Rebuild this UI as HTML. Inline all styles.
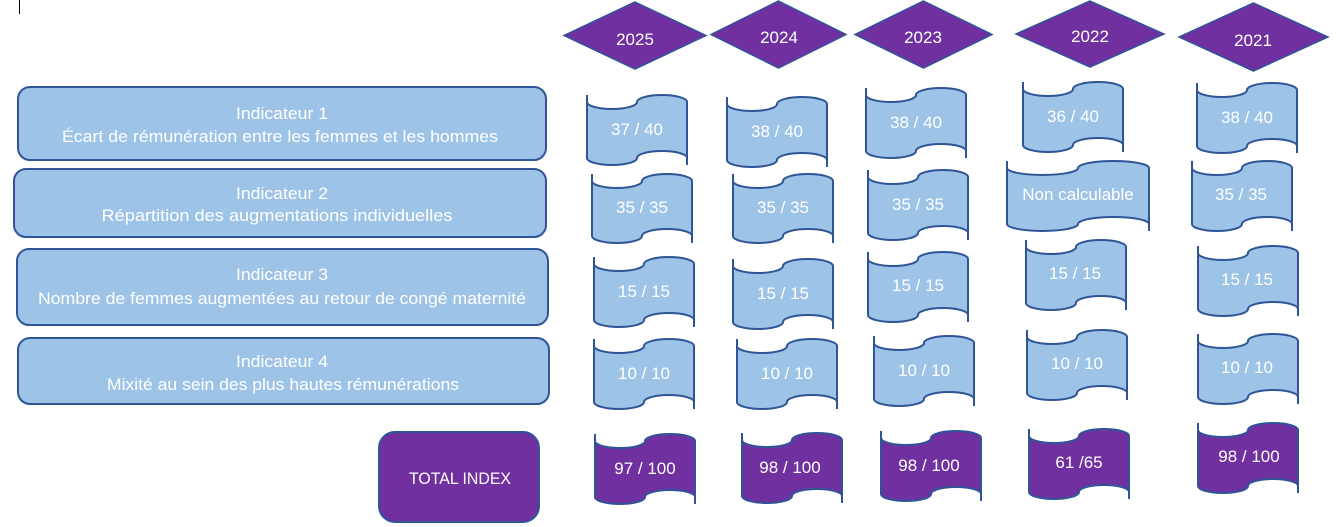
<!DOCTYPE html>
<html>
<head>
<meta charset="utf-8">
<style>
html,body{margin:0;padding:0;background:#fff;}
svg{display:block;}
text{font-family:"Liberation Sans",sans-serif;fill:#fff;}
</style>
</head>
<body>
<svg width="1336" height="527" viewBox="0 0 1336 527" xmlns="http://www.w3.org/2000/svg">
<!-- cursor mark -->
<line x1="19.5" y1="0" x2="19.5" y2="14" stroke="#000" stroke-width="1"/>

<!-- Left indicator boxes -->
<g fill="#9DC3E6" stroke="#2F5597" stroke-width="2">
  <rect x="18" y="87" width="528" height="73" rx="12"/>
  <rect x="14" y="169" width="532" height="68" rx="12"/>
  <rect x="17" y="249" width="531" height="76" rx="12"/>
  <rect x="18" y="338" width="531" height="66" rx="12"/>
</g>
<rect x="379" y="432" width="160" height="90" rx="16" fill="#7030A0" stroke="#2F5597" stroke-width="2"/>

<g font-size="17" text-anchor="middle">
  <text x="282" y="119" textLength="92" lengthAdjust="spacingAndGlyphs">Indicateur 1</text>
  <text x="280" y="142" textLength="436" lengthAdjust="spacingAndGlyphs">Écart de rémunération entre les femmes et les hommes</text>
  <text x="282" y="199" textLength="92" lengthAdjust="spacingAndGlyphs">Indicateur 2</text>
  <text x="277" y="221" textLength="351" lengthAdjust="spacingAndGlyphs">Répartition des augmentations individuelles</text>
  <text x="282" y="280" textLength="92" lengthAdjust="spacingAndGlyphs">Indicateur 3</text>
  <text x="282" y="304" textLength="488" lengthAdjust="spacingAndGlyphs">Nombre de femmes augmentées au retour de congé maternité</text>
  <text x="282" y="367" textLength="92" lengthAdjust="spacingAndGlyphs">Indicateur 4</text>
  <text x="283" y="390" textLength="352" lengthAdjust="spacingAndGlyphs">Mixité au sein des plus hautes rémunérations</text>
  <text x="460" y="484" textLength="102" lengthAdjust="spacingAndGlyphs">TOTAL INDEX</text>
</g>

<!-- Year diamonds -->
<g fill="#7030A0" stroke="#2F5597" stroke-width="1.5">
  <polygon points="635,2 706,35.5 635,69 564,35.5"/>
  <polygon points="778.5,1 846,34.5 778.5,68 711,34.5"/>
  <polygon points="923.5,1 992,34.5 923.5,68 855,34.5"/>
  <polygon points="1090,1 1164,34 1090,67 1016,34"/>
  <polygon points="1253.5,3 1328,37 1253.5,71 1179,37"/>
</g>
<g font-size="17" text-anchor="middle">
  <text x="635" y="45">2025</text>
  <text x="779" y="43">2024</text>
  <text x="923" y="43">2023</text>
  <text x="1090" y="42">2022</text>
  <text x="1253" y="46">2021</text>
</g>

<!-- Light blue flags -->
<g fill="#9DC3E6" stroke="#2F5597" stroke-width="2" stroke-linejoin="round">
  <!-- Row 1 -->
  <path d="M587,102 A25,7 0 0 0 637,102 A25,7 0 0 1 687,102 L687,158 A25,7 0 0 0 637,158 A25,7 0 0 1 587,158 Z M587,95 L587,102 M687,158 L687,165"/>
  <path d="M727,104 A25,7 0 0 0 777,104 A25,7 0 0 1 827,104 L827,160 A25,7 0 0 0 777,160 A25,7 0 0 1 727,160 Z M727,97 L727,104 M827,160 L827,167"/>
  <path d="M866,95 A25,7 0 0 0 916,95 A25,7 0 0 1 966,95 L966,151 A25,7 0 0 0 916,151 A25,7 0 0 1 866,151 Z M866,88 L866,95 M966,151 L966,158"/>
  <path d="M1023,89 A25,7 0 0 0 1073,89 A25,7 0 0 1 1123,89 L1123,145 A25,7 0 0 0 1073,145 A25,7 0 0 1 1023,145 Z M1023,82 L1023,89 M1123,145 L1123,152"/>
  <path d="M1197,90 A25,7 0 0 0 1247,90 A25,7 0 0 1 1297,90 L1297,146 A25,7 0 0 0 1247,146 A25,7 0 0 1 1197,146 Z M1197,83 L1197,90 M1297,146 L1297,153"/>
  <!-- Row 2 -->
  <path d="M592,181 A25,7 0 0 0 642,181 A25,7 0 0 1 692,181 L692,236 A25,7 0 0 0 642,236 A25,7 0 0 1 592,236 Z M592,174 L592,181 M692,236 L692,243"/>
  <path d="M733,181 A25,7 0 0 0 783,181 A25,7 0 0 1 833,181 L833,236 A25,7 0 0 0 783,236 A25,7 0 0 1 733,236 Z M733,174 L733,181 M833,236 L833,243"/>
  <path d="M868,177 A25,7 0 0 0 918,177 A25,7 0 0 1 968,177 L968,233 A25,7 0 0 0 918,233 A25,7 0 0 1 868,233 Z M868,170 L868,177 M968,233 L968,240"/>
  <path d="M1007,168 A35.5,7 0 0 0 1078,168 A35.5,7 0 0 1 1149,168 L1149,224 A35.5,7 0 0 0 1078,224 A35.5,7 0 0 1 1007,224 Z M1007,161 L1007,168 M1149,224 L1149,231"/>
  <path d="M1192,168 A25,7 0 0 0 1242,168 A25,7 0 0 1 1292,168 L1292,224 A25,7 0 0 0 1242,224 A25,7 0 0 1 1192,224 Z M1192,161 L1192,168 M1292,224 L1292,231"/>
  <!-- Row 3 -->
  <path d="M594,264 A25,7 0 0 0 644,264 A25,7 0 0 1 694,264 L694,320 A25,7 0 0 0 644,320 A25,7 0 0 1 594,320 Z M594,257 L594,264 M694,320 L694,327"/>
  <path d="M733,266 A25,7 0 0 0 783,266 A25,7 0 0 1 833,266 L833,322 A25,7 0 0 0 783,322 A25,7 0 0 1 733,322 Z M733,259 L733,266 M833,322 L833,329"/>
  <path d="M868,259 A25,7 0 0 0 918,259 A25,7 0 0 1 968,259 L968,315 A25,7 0 0 0 918,315 A25,7 0 0 1 868,315 Z M868,252 L868,259 M968,315 L968,322"/>
  <path d="M1026,247 A25,7 0 0 0 1076,247 A25,7 0 0 1 1126,247 L1126,303 A25,7 0 0 0 1076,303 A25,7 0 0 1 1026,303 Z M1026,240 L1026,247 M1126,303 L1126,310"/>
  <path d="M1198,253 A25,7 0 0 0 1248,253 A25,7 0 0 1 1298,253 L1298,309 A25,7 0 0 0 1248,309 A25,7 0 0 1 1198,309 Z M1198,246 L1198,253 M1298,309 L1298,316"/>
  <!-- Row 4 -->
  <path d="M594,346 A25,7 0 0 0 644,346 A25,7 0 0 1 694,346 L694,402 A25,7 0 0 0 644,402 A25,7 0 0 1 594,402 Z M594,339 L594,346 M694,402 L694,409"/>
  <path d="M737,346 A25,7 0 0 0 787,346 A25,7 0 0 1 837,346 L837,402 A25,7 0 0 0 787,402 A25,7 0 0 1 737,402 Z M737,339 L737,346 M837,402 L837,409"/>
  <path d="M874,343 A25,7 0 0 0 924,343 A25,7 0 0 1 974,343 L974,399 A25,7 0 0 0 924,399 A25,7 0 0 1 874,399 Z M874,336 L874,343 M974,399 L974,406"/>
  <path d="M1027,337 A25,7 0 0 0 1077,337 A25,7 0 0 1 1127,337 L1127,393 A25,7 0 0 0 1077,393 A25,7 0 0 1 1027,393 Z M1027,330 L1027,337 M1127,393 L1127,400"/>
  <path d="M1198,341 A25,7 0 0 0 1248,341 A25,7 0 0 1 1298,341 L1298,397 A25,7 0 0 0 1248,397 A25,7 0 0 1 1198,397 Z M1198,334 L1198,341 M1298,397 L1298,404"/>
</g>

<!-- Purple flags -->
<g fill="#7030A0" stroke="#2F5597" stroke-width="2" stroke-linejoin="round">
  <path d="M595,441 A25,7 0 0 0 645,441 A25,7 0 0 1 695,441 L695,497 A25,7 0 0 0 645,497 A25,7 0 0 1 595,497 Z M595,434 L595,441 M695,497 L695,504"/>
  <path d="M742,440 A25,7 0 0 0 792,440 A25,7 0 0 1 842,440 L842,496 A25,7 0 0 0 792,496 A25,7 0 0 1 742,496 Z M742,433 L742,440 M842,496 L842,503"/>
  <path d="M881,438 A25,7 0 0 0 931,438 A25,7 0 0 1 981,438 L981,494 A25,7 0 0 0 931,494 A25,7 0 0 1 881,494 Z M881,431 L881,438 M981,494 L981,501"/>
  <path d="M1029,436 A25,7 0 0 0 1079,436 A25,7 0 0 1 1129,436 L1129,492 A25,7 0 0 0 1079,492 A25,7 0 0 1 1029,492 Z M1029,429 L1029,436 M1129,492 L1129,499"/>
  <path d="M1198,430 A25,7 0 0 0 1248,430 A25,7 0 0 1 1298,430 L1298,486 A25,7 0 0 0 1248,486 A25,7 0 0 1 1198,486 Z M1198,423 L1198,430 M1298,486 L1298,493"/>
</g>

<!-- Flag labels -->
<g font-size="17" text-anchor="middle">
  <text x="637" y="135">37 / 40</text>
  <text x="777" y="137">38 / 40</text>
  <text x="916" y="128">38 / 40</text>
  <text x="1073" y="122">36 / 40</text>
  <text x="1247" y="123">38 / 40</text>

  <text x="642" y="213">35 / 35</text>
  <text x="783" y="213">35 / 35</text>
  <text x="918" y="210">35 / 35</text>
  <text x="1078" y="200">Non calculable</text>
  <text x="1241" y="200">35 / 35</text>

  <text x="644" y="297">15 / 15</text>
  <text x="783" y="299">15 / 15</text>
  <text x="918" y="291">15 / 15</text>
  <text x="1075" y="279">15 / 15</text>
  <text x="1247" y="285">15 / 15</text>

  <text x="644" y="379">10 / 10</text>
  <text x="787" y="379">10 / 10</text>
  <text x="924" y="376">10 / 10</text>
  <text x="1077" y="369">10 / 10</text>
  <text x="1247" y="373">10 / 10</text>

  <text x="645" y="474">97 / 100</text>
  <text x="790" y="473">98 / 100</text>
  <text x="929" y="471">98 / 100</text>
  <text x="1079" y="468">61 /65</text>
  <text x="1249" y="462">98 / 100</text>
</g>
</svg>
</body>
</html>
